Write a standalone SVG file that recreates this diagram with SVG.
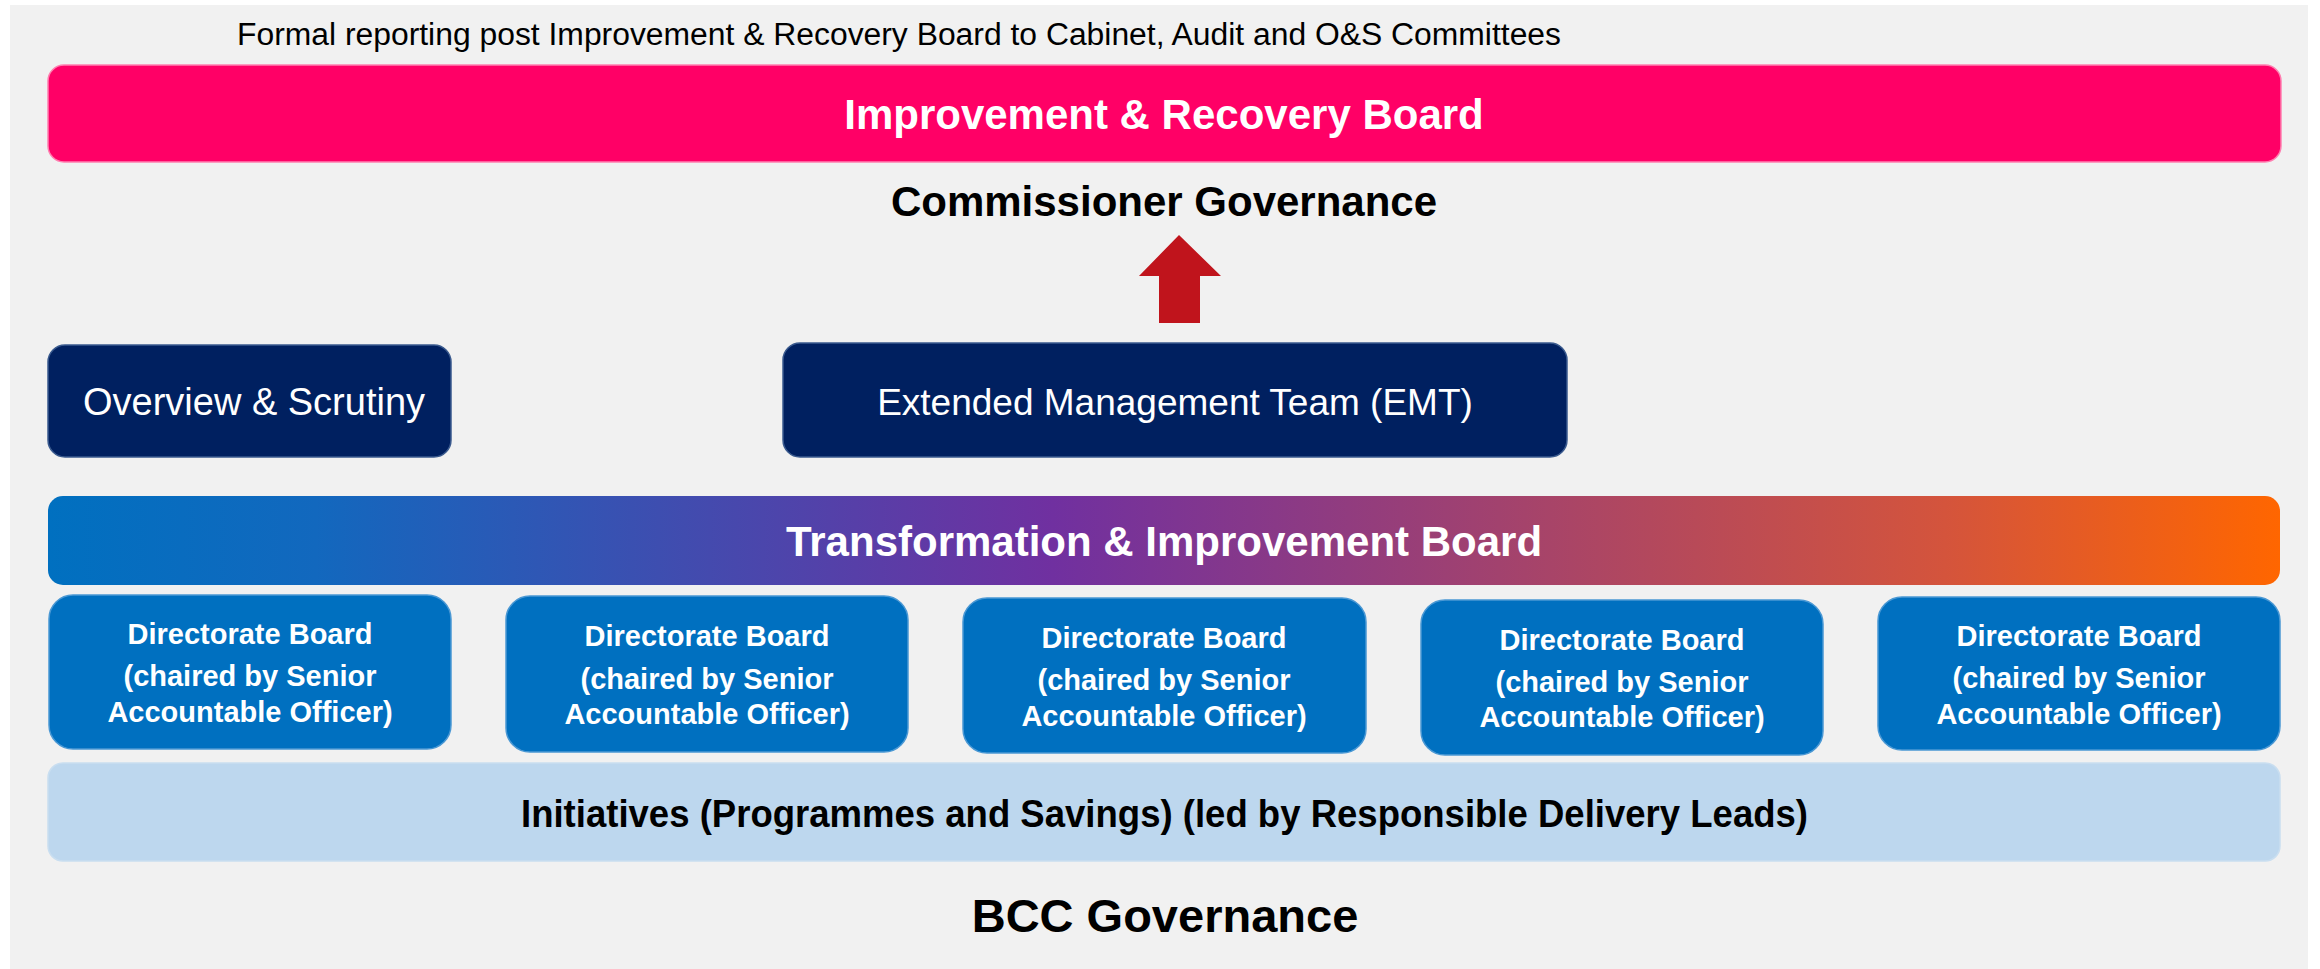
<svg xmlns="http://www.w3.org/2000/svg" width="2320" height="969" viewBox="0 0 2320 969">
  <style>
    text { font-family: "Liberation Sans", Arial, sans-serif; }
    .w { fill: #ffffff; }
    .k { fill: #000000; }
    .b { font-weight: bold; }
    .c { text-anchor: middle; }
    .navy { fill: #002060; stroke: #3a5a8e; stroke-width: 1.5; }
    .dir { fill: #0070C0; stroke: #4a98d4; stroke-width: 1.5; }
    .dt { font-size: 29px; font-weight: bold; fill: #ffffff; text-anchor: middle; }
  </style>
  <defs>
    <linearGradient id="tib" x1="0" y1="0" x2="1" y2="0">
      <stop offset="0" stop-color="#0070C0"/>
      <stop offset="0.12" stop-color="#1268BE"/>
      <stop offset="0.45" stop-color="#7030A0"/>
      <stop offset="0.85" stop-color="#D4543C"/>
      <stop offset="1" stop-color="#FF6600"/>
    </linearGradient>
  </defs>
  <rect x="0" y="0" width="2320" height="969" fill="#ffffff"/>
  <rect x="10" y="5" width="2298" height="964" fill="#f1f1f1"/>

  <g id="header">
    <text x="237" y="45" font-size="31" class="k" textLength="1324" lengthAdjust="spacingAndGlyphs">Formal reporting post Improvement &amp; Recovery Board to Cabinet, Audit and O&amp;S Committees</text>
  </g>

  <g id="improvement-recovery-board">
    <rect x="48" y="65" width="2233" height="97" rx="16" fill="#FF0066" stroke="#ff7fb0" stroke-width="1.5"/>
    <text x="1164" y="129" font-size="42" class="w b c">Improvement &amp; Recovery Board</text>
  </g>

  <g id="commissioner-governance">
    <text x="1164" y="216" font-size="42" class="k b c">Commissioner Governance</text>
  </g>

  <g id="connectors">
    <polygon points="1179,235 1221,276 1200,276 1200,323 1159,323 1159,276 1139,276" fill="#C0141C"/>
  </g>

  <g id="overview-scrutiny">
    <rect x="48" y="345" width="403" height="112" rx="17" class="navy"/>
    <text x="254" y="415" font-size="38" class="w c">Overview &amp; Scrutiny</text>
  </g>

  <g id="emt">
    <rect x="783" y="343" width="784" height="114" rx="17" class="navy"/>
    <text x="1175" y="415" font-size="37" class="w c">Extended Management Team (EMT)</text>
  </g>

  <g id="transformation-improvement-board">
    <rect x="48" y="496" width="2232" height="89" rx="15" fill="url(#tib)"/>
    <text x="1164" y="556" font-size="42" class="w b c">Transformation &amp; Improvement Board</text>
  </g>

  <g id="directorate-board-1">
    <rect x="49" y="595" width="402" height="154" rx="24" class="dir"/>
    <text x="250" y="644" class="dt">Directorate Board</text>
    <text x="250" y="686" class="dt">(chaired by Senior</text>
    <text x="250" y="722" class="dt">Accountable Officer)</text>
  </g>
  <g id="directorate-board-2">
    <rect x="506" y="596" width="402" height="156" rx="24" class="dir"/>
    <text x="707" y="646" class="dt">Directorate Board</text>
    <text x="707" y="689" class="dt">(chaired by Senior</text>
    <text x="707" y="724" class="dt">Accountable Officer)</text>
  </g>
  <g id="directorate-board-3">
    <rect x="963" y="598" width="403" height="155" rx="24" class="dir"/>
    <text x="1164" y="648" class="dt">Directorate Board</text>
    <text x="1164" y="690" class="dt">(chaired by Senior</text>
    <text x="1164" y="726" class="dt">Accountable Officer)</text>
  </g>
  <g id="directorate-board-4">
    <rect x="1421" y="600" width="402" height="155" rx="24" class="dir"/>
    <text x="1622" y="650" class="dt">Directorate Board</text>
    <text x="1622" y="692" class="dt">(chaired by Senior</text>
    <text x="1622" y="727" class="dt">Accountable Officer)</text>
  </g>
  <g id="directorate-board-5">
    <rect x="1878" y="597" width="402" height="153" rx="24" class="dir"/>
    <text x="2079" y="646" class="dt">Directorate Board</text>
    <text x="2079" y="688" class="dt">(chaired by Senior</text>
    <text x="2079" y="724" class="dt">Accountable Officer)</text>
  </g>

  <g id="initiatives">
    <rect x="48" y="763" width="2232" height="98" rx="15" fill="#BDD7EE" stroke="#c9def0" stroke-width="1.5"/>
    <text x="521" y="827" font-size="38" class="k b" textLength="1287" lengthAdjust="spacingAndGlyphs">Initiatives (Programmes and Savings) (led by Responsible Delivery Leads)</text>
  </g>

  <g id="bcc-governance">
    <text x="1165" y="932" font-size="47" class="k b c">BCC Governance</text>
  </g>
</svg>
